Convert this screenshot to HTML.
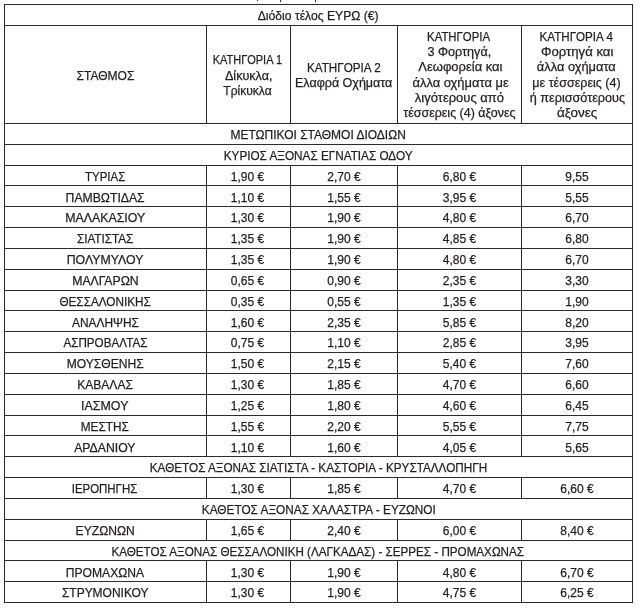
<!DOCTYPE html>
<html lang="el">
<head>
<meta charset="utf-8">
<title>Διόδιο τέλος ΕΥΡΩ</title>
<style>
html,body{margin:0;padding:0;background:#fff;}
body{width:641px;height:610px;overflow:hidden;position:relative;
  font-family:"Liberation Sans",sans-serif;font-size:12px;color:#231f20;-webkit-text-stroke:0.25px #231f20;}
table{position:absolute;left:4px;top:4px;will-change:transform;border-collapse:separate;border-spacing:0;
  table-layout:fixed;width:629px;border-top:1px solid #2b2b2b;border-left:1px solid #2b2b2b;}
td,th{border-right:1px solid #2b2b2b;border-bottom:1px solid #2b2b2b;padding:0;
  text-align:center;vertical-align:middle;font-weight:normal;line-height:15.3px;white-space:nowrap;overflow:visible;}
tr{height:21px;}
tr.h20{height:20px;}
tr.hd{height:98px;}
.t{display:inline-block;transform-origin:50% 50%;}
.cut{position:absolute;left:0;top:0;will-change:transform;}
.cut span{position:absolute;font-size:12px;line-height:14px;-webkit-text-stroke:0;}
.l{display:table;margin:0 auto;transform-origin:50% 50%;}
</style>
</head>
<body>
<div class="cut" aria-hidden="true"><span style="left:256px;top:-13px">|</span><span style="left:279px;top:-12px">|</span><span style="left:314px;top:-12.5px">|</span></div>
<table>
<colgroup>
<col style="width:202px"><col style="width:84px"><col style="width:107px"><col style="width:124px"><col style="width:111px">
</colgroup>
<thead>
<tr><th colspan="5"><span class="t" style="transform:translate(-0.52px,2.00px) scaleX(1.0130)">Διόδιο τέλος ΕΥΡΩ (€)</span></th></tr>
<tr class="hd"><th><span class="l" style="transform:translate(-0.38px,2.00px) scaleX(1.0026)">ΣΤΑΘΜΟΣ</span></th><th><span class="l" style="transform:translate(-1.50px,1.00px) scaleX(0.9162)">ΚΑΤΗΓΟΡΙΑ 1</span><span class="l" style="transform:translate(0.05px,2.00px) scaleX(1.0477)">Δίκυκλα,</span><span class="l" style="transform:translate(-0.60px,2.00px) scaleX(1.0043)">Τρίκυκλα</span></th><th><span class="l" style="transform:translate(0.00px,2.00px) scaleX(0.9730)">ΚΑΤΗΓΟΡΙΑ 2</span><span class="l" style="transform:translate(0.00px,1.00px) scaleX(1.0435)">Ελαφρά Οχήματα</span></th><th><span class="l" style="transform:translate(-0.65px,1.00px) scaleX(0.9470)">ΚΑΤΗΓΟΡΙΑ</span><span class="l" style="transform:translate(0.05px,1.00px) scaleX(1.0525)">3 Φορτηγά,</span><span class="l" style="transform:translate(0.52px,1.00px) scaleX(1.0825)">Λεωφορεία και</span><span class="l" style="transform:translate(0.90px,1.00px) scaleX(1.0773)">άλλα οχήματα με</span><span class="l" style="transform:translate(0.25px,1.00px) scaleX(1.0827)">λιγότερους από</span><span class="l" style="transform:translate(0.38px,1.00px) scaleX(1.0379)">τέσσερεις (4) άξονες</span></th><th><span class="l" style="transform:translate(-0.65px,1.00px) scaleX(0.9667)">ΚΑΤΗΓΟΡΙΑ 4</span><span class="l" style="transform:translate(0.15px,1.00px) scaleX(1.0953)">Φορτηγά και</span><span class="l" style="transform:translate(-0.55px,1.00px) scaleX(1.0699)">άλλα οχήματα</span><span class="l" style="transform:translate(-0.75px,1.00px) scaleX(1.0446)">με τέσσερεις (4)</span><span class="l" style="transform:translate(0.25px,1.00px) scaleX(1.0544)">ή περισσότερους</span><span class="l" style="transform:translate(0.25px,1.00px) scaleX(1.1206)">άξονες</span></th></tr>
</thead>
<tbody>
<tr><td colspan="5"><span class="t" style="transform:translate(-0.55px,2.00px) scaleX(0.9994)">ΜΕΤΩΠΙΚΟΙ ΣΤΑΘΜΟΙ ΔΙΟΔΙΩΝ</span></td></tr>
<tr><td colspan="5"><span class="t" style="transform:translate(-0.35px,2.00px) scaleX(0.9786)">ΚΥΡΙΟΣ ΑΞΟΝΑΣ ΕΓΝΑΤΙΑΣ ΟΔΟΥ</span></td></tr>
<tr class="h20"><td><span class="t" style="transform:translate(0.10px,2.00px) scaleX(0.9561)">ΤΥΡΙΑΣ</span></td><td><span class="t" style="transform:translate(-1.00px,2.00px) scaleX(1.0000)">1,90 €</span></td><td><span class="t" style="transform:translate(0.00px,2.00px) scaleX(1.0000)">2,70 €</span></td><td><span class="t" style="transform:translate(0.00px,2.00px) scaleX(1.0000)">6,80 €</span></td><td><span class="t" style="transform:translate(0.00px,2.00px) scaleX(1.0000)">9,55</span></td></tr>
<tr><td><span class="t" style="transform:translate(-0.75px,3.00px) scaleX(1.0171)">ΠΑΜΒΩΤΙΔΑΣ</span></td><td><span class="t" style="transform:translate(-1.00px,3.00px) scaleX(1.0000)">1,10 €</span></td><td><span class="t" style="transform:translate(0.00px,3.00px) scaleX(1.0000)">1,55 €</span></td><td><span class="t" style="transform:translate(0.00px,3.00px) scaleX(1.0000)">3,95 €</span></td><td><span class="t" style="transform:translate(0.00px,3.00px) scaleX(1.0000)">5,55</span></td></tr>
<tr><td><span class="t" style="transform:translate(-0.65px,2.00px) scaleX(1.0276)">ΜΑΛΑΚΑΣΙΟΥ</span></td><td><span class="t" style="transform:translate(-1.00px,2.00px) scaleX(1.0000)">1,30 €</span></td><td><span class="t" style="transform:translate(0.00px,2.00px) scaleX(1.0000)">1,90 €</span></td><td><span class="t" style="transform:translate(0.00px,2.00px) scaleX(1.0000)">4,80 €</span></td><td><span class="t" style="transform:translate(0.00px,2.00px) scaleX(1.0000)">6,70</span></td></tr>
<tr><td><span class="t" style="transform:translate(-0.85px,2.00px) scaleX(0.9737)">ΣΙΑΤΙΣΤΑΣ</span></td><td><span class="t" style="transform:translate(-1.00px,2.00px) scaleX(1.0000)">1,35 €</span></td><td><span class="t" style="transform:translate(0.00px,2.00px) scaleX(1.0000)">1,90 €</span></td><td><span class="t" style="transform:translate(0.00px,2.00px) scaleX(1.0000)">4,85 €</span></td><td><span class="t" style="transform:translate(0.00px,2.00px) scaleX(1.0000)">6,80</span></td></tr>
<tr><td><span class="t" style="transform:translate(-0.30px,2.00px) scaleX(1.0274)">ΠΟΛΥΜΥΛΟΥ</span></td><td><span class="t" style="transform:translate(-1.00px,2.00px) scaleX(1.0000)">1,35 €</span></td><td><span class="t" style="transform:translate(0.00px,2.00px) scaleX(1.0000)">1,90 €</span></td><td><span class="t" style="transform:translate(0.00px,2.00px) scaleX(1.0000)">4,80 €</span></td><td><span class="t" style="transform:translate(0.00px,2.00px) scaleX(1.0000)">6,70</span></td></tr>
<tr><td><span class="t" style="transform:translate(-0.15px,2.00px) scaleX(1.0206)">ΜΑΛΓΑΡΩΝ</span></td><td><span class="t" style="transform:translate(-1.00px,2.00px) scaleX(1.0000)">0,65 €</span></td><td><span class="t" style="transform:translate(0.00px,2.00px) scaleX(1.0000)">0,90 €</span></td><td><span class="t" style="transform:translate(0.00px,2.00px) scaleX(1.0000)">2,35 €</span></td><td><span class="t" style="transform:translate(0.00px,2.00px) scaleX(1.0000)">3,30</span></td></tr>
<tr class="h20"><td><span class="t" style="transform:translate(-0.60px,2.00px) scaleX(0.9785)">ΘΕΣΣΑΛΟΝΙΚΗΣ</span></td><td><span class="t" style="transform:translate(-1.00px,2.00px) scaleX(1.0000)">0,35 €</span></td><td><span class="t" style="transform:translate(0.00px,2.00px) scaleX(1.0000)">0,55 €</span></td><td><span class="t" style="transform:translate(0.00px,2.00px) scaleX(1.0000)">1,35 €</span></td><td><span class="t" style="transform:translate(0.00px,2.00px) scaleX(1.0000)">1,90</span></td></tr>
<tr><td><span class="t" style="transform:translate(-0.30px,3.00px) scaleX(0.9910)">ΑΝΑΛΗΨΗΣ</span></td><td><span class="t" style="transform:translate(-1.00px,3.00px) scaleX(1.0000)">1,60 €</span></td><td><span class="t" style="transform:translate(0.00px,3.00px) scaleX(1.0000)">2,35 €</span></td><td><span class="t" style="transform:translate(0.00px,3.00px) scaleX(1.0000)">5,85 €</span></td><td><span class="t" style="transform:translate(0.00px,3.00px) scaleX(1.0000)">8,20</span></td></tr>
<tr><td><span class="t" style="transform:translate(0.20px,2.00px) scaleX(0.9721)">ΑΣΠΡΟΒΑΛΤΑΣ</span></td><td><span class="t" style="transform:translate(-1.00px,2.00px) scaleX(1.0000)">0,75 €</span></td><td><span class="t" style="transform:translate(0.00px,2.00px) scaleX(1.0000)">1,10 €</span></td><td><span class="t" style="transform:translate(0.00px,2.00px) scaleX(1.0000)">2,85 €</span></td><td><span class="t" style="transform:translate(0.00px,2.00px) scaleX(1.0000)">3,95</span></td></tr>
<tr><td><span class="t" style="transform:translate(-0.05px,2.00px) scaleX(1.0067)">ΜΟΥΣΘΕΝΗΣ</span></td><td><span class="t" style="transform:translate(-1.00px,2.00px) scaleX(1.0000)">1,50 €</span></td><td><span class="t" style="transform:translate(0.00px,2.00px) scaleX(1.0000)">2,15 €</span></td><td><span class="t" style="transform:translate(0.00px,2.00px) scaleX(1.0000)">5,40 €</span></td><td><span class="t" style="transform:translate(0.00px,2.00px) scaleX(1.0000)">7,60</span></td></tr>
<tr><td><span class="t" style="transform:translate(-0.65px,2.00px) scaleX(1.0019)">ΚΑΒΑΛΑΣ</span></td><td><span class="t" style="transform:translate(-1.00px,2.00px) scaleX(1.0000)">1,30 €</span></td><td><span class="t" style="transform:translate(0.00px,2.00px) scaleX(1.0000)">1,85 €</span></td><td><span class="t" style="transform:translate(0.00px,2.00px) scaleX(1.0000)">4,70 €</span></td><td><span class="t" style="transform:translate(0.00px,2.00px) scaleX(1.0000)">6,60</span></td></tr>
<tr><td><span class="t" style="transform:translate(-1.10px,2.00px) scaleX(1.0364)">ΙΑΣΜΟΥ</span></td><td><span class="t" style="transform:translate(-1.00px,2.00px) scaleX(1.0000)">1,25 €</span></td><td><span class="t" style="transform:translate(0.00px,2.00px) scaleX(1.0000)">1,80 €</span></td><td><span class="t" style="transform:translate(0.00px,2.00px) scaleX(1.0000)">4,60 €</span></td><td><span class="t" style="transform:translate(0.00px,2.00px) scaleX(1.0000)">6,45</span></td></tr>
<tr class="h20"><td><span class="t" style="transform:translate(-0.70px,2.00px) scaleX(0.9833)">ΜΕΣΤΗΣ</span></td><td><span class="t" style="transform:translate(-1.00px,2.00px) scaleX(1.0000)">1,55 €</span></td><td><span class="t" style="transform:translate(0.00px,2.00px) scaleX(1.0000)">2,20 €</span></td><td><span class="t" style="transform:translate(0.00px,2.00px) scaleX(1.0000)">5,55 €</span></td><td><span class="t" style="transform:translate(0.00px,2.00px) scaleX(1.0000)">7,75</span></td></tr>
<tr><td><span class="t" style="transform:translate(-0.25px,3.00px) scaleX(1.0186)">ΑΡΔΑΝΙΟΥ</span></td><td><span class="t" style="transform:translate(-1.00px,3.00px) scaleX(1.0000)">1,10 €</span></td><td><span class="t" style="transform:translate(0.00px,3.00px) scaleX(1.0000)">1,60 €</span></td><td><span class="t" style="transform:translate(0.00px,3.00px) scaleX(1.0000)">4,05 €</span></td><td><span class="t" style="transform:translate(0.00px,3.00px) scaleX(1.0000)">5,65</span></td></tr>
<tr><td colspan="5"><span class="t" style="transform:translate(-0.25px,2.00px) scaleX(0.9767)">ΚΑΘΕΤΟΣ ΑΞΟΝΑΣ ΣΙΑΤΙΣΤΑ - ΚΑΣΤΟΡΙΑ - ΚΡΥΣΤΑΛΛΟΠΗΓΗ</span></td></tr>
<tr><td><span class="t" style="transform:translate(-0.85px,2.00px) scaleX(0.9515)">ΙΕΡΟΠΗΓΗΣ</span></td><td><span class="t" style="transform:translate(-1.00px,2.00px) scaleX(1.0000)">1,30 €</span></td><td><span class="t" style="transform:translate(0.00px,2.00px) scaleX(1.0000)">1,85 €</span></td><td><span class="t" style="transform:translate(0.00px,2.00px) scaleX(1.0000)">4,70 €</span></td><td><span class="t" style="transform:translate(0.00px,2.00px) scaleX(1.0000)">6,60 €</span></td></tr>
<tr><td colspan="5"><span class="t" style="transform:translate(-0.05px,2.00px) scaleX(0.9843)">ΚΑΘΕΤΟΣ ΑΞΟΝΑΣ ΧΑΛΑΣΤΡΑ - ΕΥΖΩΝΟΙ</span></td></tr>
<tr><td><span class="t" style="transform:translate(-0.15px,2.00px) scaleX(1.0088)">ΕΥΖΩΝΩΝ</span></td><td><span class="t" style="transform:translate(-1.00px,2.00px) scaleX(1.0000)">1,65 €</span></td><td><span class="t" style="transform:translate(0.00px,2.00px) scaleX(1.0000)">2,40 €</span></td><td><span class="t" style="transform:translate(0.00px,2.00px) scaleX(1.0000)">6,00 €</span></td><td><span class="t" style="transform:translate(0.00px,2.00px) scaleX(1.0000)">8,40 €</span></td></tr>
<tr class="h20"><td colspan="5"><span class="t" style="transform:translate(-0.68px,2.00px) scaleX(0.9713)">ΚΑΘΕΤΟΣ ΑΞΟΝΑΣ ΘΕΣΣΑΛΟΝΙΚΗ (ΛΑΓΚΑΔΑΣ) - ΣΕΡΡΕΣ - ΠΡΟΜΑΧΩΝΑΣ</span></td></tr>
<tr><td><span class="t" style="transform:translate(-0.85px,3.00px) scaleX(1.0092)">ΠΡΟΜΑΧΩΝΑ</span></td><td><span class="t" style="transform:translate(-1.00px,3.00px) scaleX(1.0000)">1,30 €</span></td><td><span class="t" style="transform:translate(0.00px,3.00px) scaleX(1.0000)">1,90 €</span></td><td><span class="t" style="transform:translate(0.00px,3.00px) scaleX(1.0000)">4,80 €</span></td><td><span class="t" style="transform:translate(0.00px,3.00px) scaleX(1.0000)">6,70 €</span></td></tr>
<tr><td><span class="t" style="transform:translate(-0.15px,2.00px) scaleX(0.9988)">ΣΤΡΥΜΟΝΙΚΟΥ</span></td><td><span class="t" style="transform:translate(-1.00px,2.00px) scaleX(1.0000)">1,30 €</span></td><td><span class="t" style="transform:translate(0.00px,2.00px) scaleX(1.0000)">1,90 €</span></td><td><span class="t" style="transform:translate(0.00px,2.00px) scaleX(1.0000)">4,75 €</span></td><td><span class="t" style="transform:translate(0.00px,2.00px) scaleX(1.0000)">6,25 €</span></td></tr>
</tbody>
</table>
</body>
</html>
